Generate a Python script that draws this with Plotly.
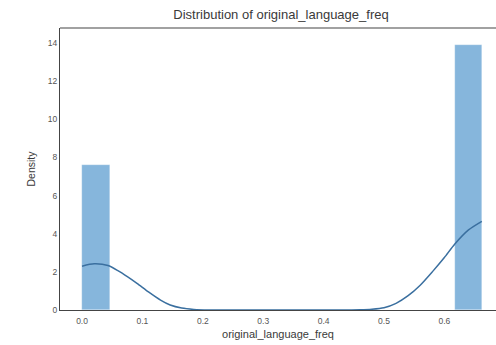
import plotly.graph_objects as go

# Histogram bins (left edges) and densities
bin_left = [0.0, 0.617]
bin_width = 0.0455
density = [7.6, 13.9]

# KDE curve
kde_x = [0.0, 0.02, 0.043, 0.06, 0.075, 0.091, 0.11, 0.13, 0.146, 0.165, 0.185, 0.21,
         0.25, 0.30, 0.35, 0.40, 0.44, 0.46, 0.48, 0.50, 0.52, 0.54, 0.56, 0.58,
         0.60, 0.617, 0.64, 0.662]
kde_y = [2.3, 2.42, 2.33, 2.05, 1.75, 1.4, 0.95, 0.52, 0.26, 0.1, 0.03, 0.0,
         0.0, 0.0, 0.0, 0.0, 0.0, 0.01, 0.04, 0.12, 0.35, 0.75, 1.3, 2.0,
         2.75, 3.45, 4.2, 4.65]

x_ticks = [0.0, 0.1, 0.2, 0.3, 0.4, 0.5, 0.6]
y_ticks = [0, 2, 4, 6, 8, 10, 12, 14]

fig = go.Figure()
fig.add_trace(go.Bar(
    x=[b + bin_width / 2 for b in bin_left], y=density, width=[bin_width] * len(bin_left),
    marker=dict(color="#86b6dc", line=dict(color="rgba(255,255,255,0.5)", width=0.5)),
    showlegend=False, hoverinfo="skip"))
fig.add_trace(go.Scatter(
    x=kde_x, y=kde_y, mode="lines",
    line=dict(color="#3a6f9f", width=1.5, shape="spline", smoothing=0.7),
    showlegend=False))

txt = "#3a3a3a"
fig.update_layout(
    width=496, height=345,
    margin=dict(l=60, r=0, t=28, b=35),
    paper_bgcolor="white", plot_bgcolor="white",
    font=dict(family="Liberation Sans", size=8.5, color=txt),
    title=dict(text="Distribution of original_language_freq", x=281 / 496, xanchor="center",
               y=1 - 14 / 345, yanchor="middle", font=dict(size=13, color=txt)),
    bargap=0,
    xaxis=dict(range=[-0.0365, 0.6855], tickvals=x_ticks, ticktext=[f"{v:.1f}" for v in x_ticks],
               showgrid=False, zeroline=False, showline=True, linecolor="#444", linewidth=1.2,
               ticks="", ticklen=0, tickfont=dict(color="#555", size=8.5), ticklabelstandoff=3,
               title=dict(text="original_language_freq", font=dict(size=11, color=txt), standoff=5)),
    yaxis=dict(range=[0, 14.79], tickvals=y_ticks, showgrid=False, zeroline=False,
               showline=True, linecolor="#444", linewidth=1.2, ticks="", ticklen=0,
               tickfont=dict(color="#555", size=8.5),
               title=dict(text="Density", font=dict(size=10.5, color=txt), standoff=10)),
    shapes=[dict(type="line", xref="paper", yref="paper", x0=0, x1=1, y0=1, y1=1,
                 line=dict(color="#444", width=1.2))],
)
fig.write_html("out.html")
